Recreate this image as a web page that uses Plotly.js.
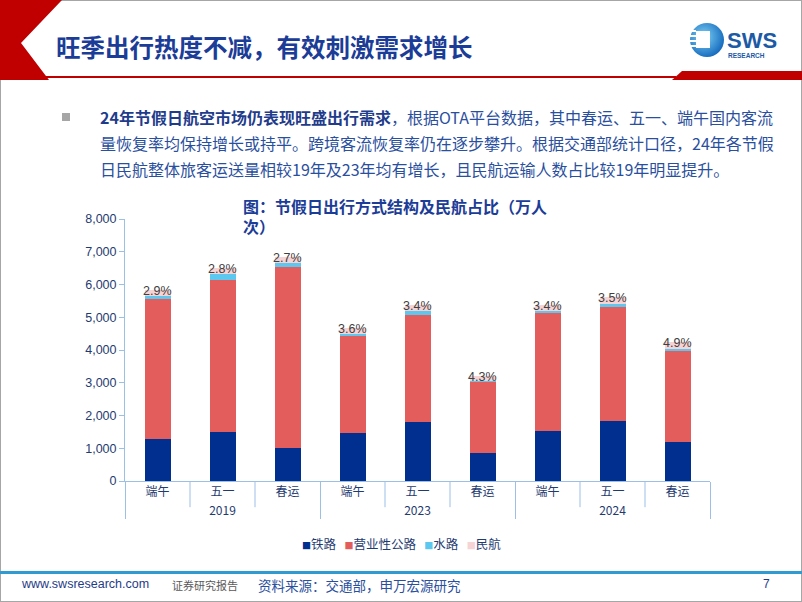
<!DOCTYPE html>
<html>
<head>
<meta charset="utf-8">
<script src="https://cdn.plot.ly/plotly-3.0.1.min.js"></script>
<style>
  html, body { margin:0; padding:0; background:#fff; }
  #wrap { position:relative; width:802px; height:602px; overflow:hidden; background:#fff; font-family:"Noto Sans CJK SC", sans-serif; }
  #chart { position:absolute; left:0; top:0; width:802px; height:602px; }
  .ov { position:absolute; pointer-events:none; white-space:nowrap; }
</style>
</head>
<body>
<div id="wrap">
  <div id="chart"></div>
  <svg class="ov" style="left:0;top:0" width="802" height="602">
    <defs>
      <radialGradient id="lg" cx="40%" cy="40%" r="70%">
        <stop offset="0%" stop-color="#7fd3f5"/>
        <stop offset="100%" stop-color="#0a5fb8"/>
      </radialGradient>
    </defs>
    <rect x="0.5" y="0.5" width="801" height="601" fill="none" stroke="#a6a6a6" stroke-width="1"/>
    <polygon points="0,0 62,0 21,43 49,80 0,80" fill="#c00000"/>
    <rect x="36" y="76" width="640" height="2" fill="#c00000"/>
    <polygon points="682,71 802,71 802,80 672,80" fill="#c00000"/>
    <circle cx="707" cy="40" r="17" fill="url(#lg)"/>
    <rect x="696" y="31" width="14" height="17" fill="#ffffff"/>
    <rect x="690" y="30" width="6" height="2" fill="#ffffff"/>
    <rect x="689" y="35" width="7" height="2" fill="#ffffff"/>
    <rect x="689" y="40" width="7" height="2" fill="#ffffff"/>
    <rect x="689" y="45" width="7" height="2" fill="#ffffff"/>
    <text x="727" y="48" font-family="Liberation Sans, Arial, sans-serif" font-weight="bold" font-size="22" fill="#1c5aa6">SWS</text>
    <text x="728" y="58" font-family="Liberation Sans, Arial, sans-serif" font-weight="bold" font-size="6.5" fill="#1c5aa6">RESEARCH</text>
    <rect x="62" y="113" width="8" height="8" fill="#a6a6a6"/>
    <rect x="0" y="571" width="802" height="3" fill="#2f9bd0"/>
  </svg>
  <div class="ov" style="left:56px;top:29px;font-size:24.5px;font-weight:bold;color:#1b3c97;">旺季出行热度不减，有效刺激需求增长</div>
  <div class="ov" style="left:100px;top:104px;font-size:16px;line-height:26px;color:#2a4f9e;">
    <span style="font-weight:bold;color:#1f3c8c;">24年节假日航空市场仍表现旺盛出行需求</span>，根据OTA平台数据，其中春运、五一、端午国内客流<br>量恢复率均保持增长或持平。跨境客流恢复率仍在逐步攀升。根据交通部统计口径，24年各节假<br>日民航整体旅客运送量相较19年及23年均有增长，且民航运输人数占比较19年明显提升。
  </div>
  <div class="ov" style="left:22px;top:577px;font-size:12.5px;color:#1f3c88;font-family:'Liberation Sans',Arial,sans-serif;">www.swsresearch.com</div>
  <div class="ov" style="left:172px;top:577px;font-size:11px;color:#595959;">证券研究报告</div>
  <div class="ov" style="left:258px;top:575px;font-size:13.5px;color:#2a4f9e;">资料来源：交通部，申万宏源研究</div>
  <div class="ov" style="left:763px;top:577px;font-size:12px;color:#1f3c88;font-family:'Liberation Sans',Arial,sans-serif;">7</div>
</div>
<script>
const years = ['2019','2019','2019','2023','2023','2023','2024','2024','2024'];
const holidays = ['端午','五一','春运','端午','五一','春运','端午','五一','春运'];
const rail  = [1280, 1490, 1010, 1460, 1800, 855, 1530, 1830, 1200];
const road  = [4280, 4650, 5530, 2970, 3270, 2170, 3590, 3470, 2770];
const water = [100, 180, 120, 70, 120, 40, 60, 120, 60];
const air   = [170, 185, 185, 170, 180, 138, 180, 195, 208];
const airShareLabels = ['2.9%','2.8%','2.7%','3.6%','3.4%','4.3%','3.4%','3.5%','4.9%'];
const seriesNames = ['铁路','营业性公路','水路','民航'];
const seriesColors = ['#002f8f','#e35d5d','#5cc8ef','#f6d3d4'];

const xData = [years, holidays];
const allSeries = [rail, road, water, air];
const traces = allSeries.map((vals, k) => ({
  type: 'bar', x: xData, y: vals, name: seriesNames[k],
  marker: { color: seriesColors[k], line: { width: 0 } },
  hoverinfo: 'skip', showlegend: false
}));

const totals = rail.map((v, i) => v + road[i] + water[i] + air[i]);
const annotations = totals.map((t, i) => ({
  x: i, y: t, xref: 'x', yref: 'y', text: airShareLabels[i], showarrow: false,
  yanchor: 'middle', yshift: -1,
  font: { family: 'Liberation Sans, Arial, sans-serif', size: 12.5, color: '#404040' }
}));

// legend built from the series names and colours
const legendText = seriesNames.map((n, k) =>
  '<span style="color:' + seriesColors[k] + ';font-size:9px">■</span>' + n).join('   ');
annotations.push({
  xref: 'paper', yref: 'paper', x: 0.472, y: -0.24, xanchor: 'center', yanchor: 'middle',
  showarrow: false, text: legendText,
  font: { family: 'Noto Sans CJK SC, sans-serif', size: 12.5, color: '#1f3b70' }
});

const axisColor = '#9cbfe6';
const shapes = [];
for (let i = 1; i < years.length; i++) {
  if (years[i] === years[i - 1]) {
    shapes.push({ type: 'line', xref: 'x', yref: 'paper', x0: i - 0.5, x1: i - 0.5, y0: 0, y1: -0.1,
      line: { color: axisColor, width: 1 } });
  }
}

const layout = {
  width: 802, height: 602,
  margin: { l: 125, r: 92, t: 219, b: 121 },
  paper_bgcolor: 'rgba(0,0,0,0)', plot_bgcolor: 'rgba(0,0,0,0)',
  barmode: 'stack', bargap: 0.6,
  font: { family: 'Liberation Sans, Arial, Noto Sans CJK SC, sans-serif', size: 12, color: '#1f3b70' },
  title: {
    text: '图：节假日出行方式结构及民航占比（万人<br>次）',
    x: 0.2017, xref: 'paper', xanchor: 'left',
    y: 0.647, yref: 'container', yanchor: 'top',
    font: { family: 'Noto Sans CJK SC, sans-serif', size: 16, color: '#1b3c97', weight: 'bold' }
  },
  xaxis: {
    type: 'multicategory', showline: true, linecolor: axisColor, linewidth: 1,
    showdividers: true, dividercolor: axisColor, dividerwidth: 1,
    ticks: 'outside', ticklen: 12, tickcolor: 'rgba(0,0,0,0)',
    showgrid: false, zeroline: false,
    tickfont: { family: 'Noto Sans CJK SC, Liberation Sans, sans-serif', size: 12, color: '#1f3b70' }
  },
  yaxis: {
    range: [0, 8000], dtick: 1000, tickformat: ',', showline: true, linecolor: axisColor, linewidth: 1,
    ticks: 'outside', ticklen: 5, tickcolor: axisColor, showgrid: false, zeroline: false,
    tickfont: { family: 'Liberation Sans, Arial, sans-serif', size: 12.5, color: '#1f3b70' }
  },
  showlegend: false,
  annotations: annotations,
  shapes: shapes
};

Plotly.newPlot('chart', traces, layout, { staticPlot: true, displayModeBar: false });
</script>
</body>
</html>
